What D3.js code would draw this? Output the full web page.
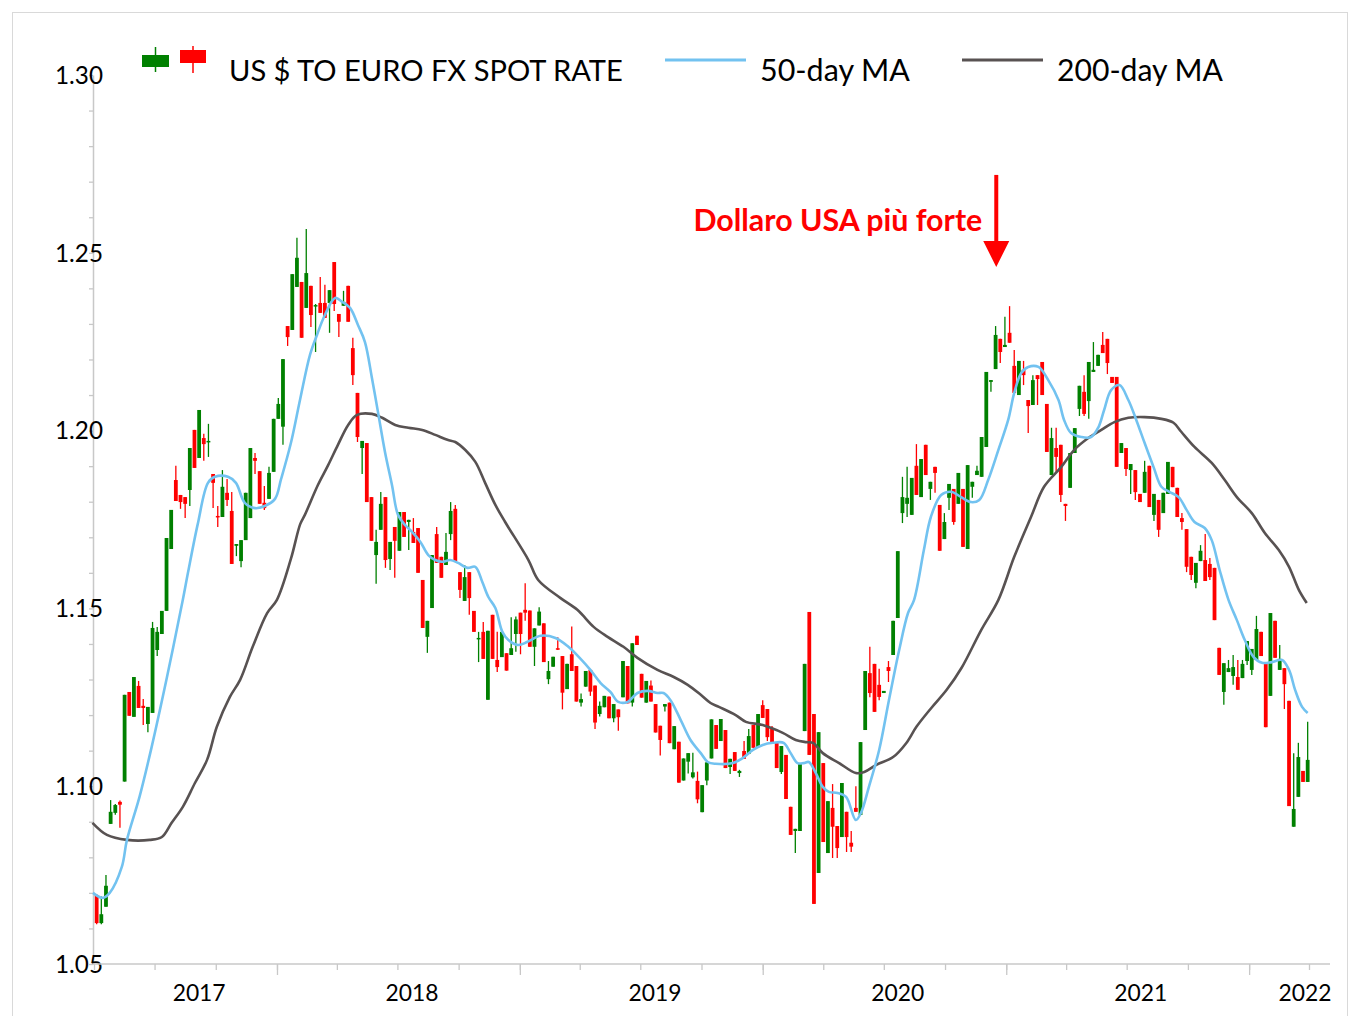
<!DOCTYPE html>
<html><head><meta charset="utf-8">
<script src="https://cdn.jsdelivr.net/npm/d3@7"></script>
<style>body{margin:0;background:#fff}svg{display:block}text{font-family:Lato,"Open Sans",sans-serif}</style>
</head><body><svg id="c" width="1360" height="1016"></svg>
<script>
// ---------- DATA ----------
const startDate = "2017-04-05"; // first weekly candle
// weekly candles [open, high, low, close]
const ohlc = [
[1.0694,1.0697,1.0612,1.0615],[1.0615,1.0690,1.0612,1.0640],[1.0661,1.0750,1.0661,1.0720],[1.0894,1.0961,1.0894,1.0928],
[1.0925,1.0950,1.0920,1.0947],[1.0956,1.0960,1.0883,1.0948],[1.1013,1.1257,1.1013,1.1257],[1.1265,1.1265,1.1198,1.1198],
[1.1195,1.1307,1.1195,1.1307],[1.1282,1.1296,1.1220,1.1220],[1.1226,1.1245,1.1172,1.1220],[1.1175,1.1223,1.1152,1.1223],
[1.1206,1.1462,1.1206,1.1445],[1.1383,1.1448,1.1366,1.1434],[1.1428,1.1493,1.1428,1.1493],[1.1493,1.1698,1.1493,1.1698],
[1.1667,1.1777,1.1667,1.1777],[1.1861,1.1901,1.1802,1.1802],[1.1819,1.1819,1.1780,1.1799],[1.1813,1.1813,1.1754,1.1794],
[1.1833,1.1951,1.1788,1.1951],[1.2002,1.2002,1.1895,1.1895],[1.1923,1.2058,1.1923,1.2058],[1.1979,1.1991,1.1915,1.1962],
[1.1968,1.2019,1.1926,1.1971],[1.1878,1.1878,1.1782,1.1853],[1.1760,1.1788,1.1729,1.1757],[1.1757,1.1889,1.1757,1.1842],
[1.1825,1.1864,1.1788,1.1805],[1.1774,1.1827,1.1625,1.1625],[1.1676,1.1681,1.1647,1.1681],[1.1633,1.1692,1.1616,1.1692],
[1.1692,1.1825,1.1692,1.1825],[1.1754,1.1951,1.1754,1.1951],[1.1923,1.1937,1.1878,1.1915],[1.1886,1.1886,1.1794,1.1794],
[1.1797,1.1844,1.1777,1.1782],[1.1808,1.1898,1.1808,1.1881],[1.1884,1.2033,1.1884,1.2033],[1.2033,1.2092,1.2033,1.2075],
[1.2011,1.2201,1.1960,1.2201],[1.2294,1.2294,1.2238,1.2263],[1.2283,1.2440,1.2283,1.2440],[1.2404,1.2542,1.2404,1.2486],
[1.2418,1.2418,1.2261,1.2261],[1.2345,1.2567,1.2345,1.2443],[1.2407,1.2407,1.2291,1.2325],[1.2349,1.2356,1.2221,1.2353],
[1.2359,1.2432,1.2331,1.2331],[1.2359,1.2410,1.2317,1.2317],[1.2359,1.2395,1.2275,1.2395],[1.2474,1.2474,1.2336,1.2356],
[1.2328,1.2328,1.2263,1.2306],[1.2351,1.2393,1.2351,1.2362],[1.2407,1.2407,1.2306,1.2306],[1.2232,1.2261,1.2128,1.2156],
[1.2106,1.2106,1.1968,1.1982],[1.1951,1.1971,1.1878,1.1971],[1.1965,1.1965,1.1799,1.1799],[1.1813,1.1813,1.1690,1.1690],
[1.1650,1.1721,1.1569,1.1687],[1.1721,1.1827,1.1721,1.1794],[1.1813,1.1813,1.1614,1.1636],[1.1639,1.1687,1.1608,1.1687],
[1.1729,1.1729,1.1586,1.1690],[1.1662,1.1771,1.1662,1.1771],[1.1771,1.1771,1.1701,1.1701],[1.1743,1.1749,1.1664,1.1749],
[1.1715,1.1754,1.1684,1.1684],[1.1726,1.1726,1.1600,1.1600],[1.1580,1.1580,1.1445,1.1445],[1.1420,1.1465,1.1375,1.1465],
[1.1501,1.1650,1.1501,1.1650],[1.1709,1.1729,1.1628,1.1628],[1.1645,1.1645,1.1586,1.1586],[1.1622,1.1712,1.1622,1.1659],
[1.1709,1.1799,1.1692,1.1774],[1.1780,1.1791,1.1633,1.1633],[1.1602,1.1602,1.1529,1.1552],[1.1521,1.1622,1.1521,1.1588],
[1.1602,1.1602,1.1482,1.1529],[1.1493,1.1493,1.1434,1.1434],[1.1414,1.1434,1.1349,1.1417],[1.1434,1.1462,1.1358,1.1358],
[1.1243,1.1437,1.1243,1.1437],[1.1482,1.1482,1.1358,1.1358],[1.1355,1.1434,1.1321,1.1335],[1.1363,1.1434,1.1363,1.1434],
[1.1374,1.1374,1.1325,1.1325],[1.1369,1.1475,1.1369,1.1388],[1.1428,1.1477,1.1378,1.1469],[1.1488,1.1488,1.1371,1.1428],
[1.1496,1.1571,1.1465,1.1488],[1.1494,1.1494,1.1392,1.1392],[1.1392,1.1444,1.1338,1.1444],[1.1452,1.1503,1.1452,1.1491],
[1.1458,1.1458,1.1349,1.1349],[1.1301,1.1352,1.1287,1.1324],[1.1336,1.1364,1.1336,1.1364],[1.1388,1.1419,1.1383,1.1385],
[1.1366,1.1366,1.1216,1.1263],[1.1273,1.1344,1.1273,1.1344],[1.1371,1.1449,1.1324,1.1324],[1.1338,1.1338,1.1238,1.1238],
[1.1235,1.1261,1.1224,1.1245],[1.1280,1.1324,1.1280,1.1324],[1.1327,1.1327,1.1254,1.1266],[1.1283,1.1283,1.1161,1.1179],
[1.1203,1.1238,1.1196,1.1226],[1.1222,1.1254,1.1222,1.1254],[1.1252,1.1252,1.1191,1.1191],[1.1191,1.1231,1.1180,1.1231],
[1.1216,1.1216,1.1156,1.1194],[1.1250,1.1352,1.1250,1.1352],[1.1338,1.1338,1.1233,1.1233],[1.1235,1.1402,1.1224,1.1402],
[1.1423,1.1423,1.1397,1.1397],[1.1316,1.1316,1.1249,1.1249],[1.1235,1.1296,1.1235,1.1296],[1.1283,1.1297,1.1238,1.1238],
[1.1231,1.1231,1.1151,1.1151],[1.1170,1.1170,1.1086,1.1130],[1.1224,1.1231,1.1210,1.1231],[1.1235,1.1235,1.1121,1.1121],
[1.1104,1.1169,1.1104,1.1169],[1.1125,1.1125,1.1010,1.1010],[1.1016,1.1078,1.1016,1.1078],[1.1069,1.1093,1.1036,1.1093],
[1.1025,1.1094,1.1022,1.1039],[1.1015,1.1041,1.0952,1.0963],[1.0927,1.1003,1.0927,1.1003],[1.1016,1.1067,1.1003,1.1067],
[1.1078,1.1188,1.1078,1.1188],[1.1172,1.1172,1.1105,1.1105],[1.1127,1.1189,1.1127,1.1189],[1.1158,1.1158,1.1051,1.1051],
[1.1054,1.1077,1.1034,1.1077],[1.1096,1.1096,1.1043,1.1043],[1.1037,1.1046,1.1026,1.1043],[1.1099,1.1127,1.1077,1.1077],
[1.1091,1.1161,1.1091,1.1141],[1.1172,1.1172,1.1108,1.1108],[1.1110,1.1203,1.1110,1.1203],[1.1228,1.1242,1.1192,1.1192],
[1.1217,1.1217,1.1127,1.1138],[1.1164,1.1169,1.1119,1.1119],[1.1122,1.1122,1.1051,1.1051],[1.1040,1.1113,1.1034,1.1113],
[1.1088,1.1088,1.0964,1.0964],[1.0942,1.0942,1.0863,1.0863],[1.0874,1.0880,1.0812,1.0880],[1.0874,1.1065,1.0874,1.1065],
[1.1155,1.1344,1.1155,1.1344],[1.1490,1.1490,1.1088,1.1088],[1.1203,1.1203,1.0669,1.0669],[1.0756,1.1152,1.0756,1.1152],
[1.1065,1.1065,1.0843,1.0843],[1.0812,1.0958,1.0812,1.0958],[1.0939,1.1006,1.0798,1.0886],[1.0888,1.0888,1.0798,1.0826],
[1.0857,1.1009,1.0857,1.1009],[1.0928,1.0928,1.0815,1.0857],[1.0841,1.0874,1.0815,1.0830],[1.0939,1.1000,1.0928,1.0928],
[1.0919,1.1124,1.0919,1.1124],[1.1158,1.1324,1.1158,1.1324],[1.1318,1.1392,1.1250,1.1262],[1.1344,1.1344,1.1209,1.1209],
[1.1285,1.1330,1.1242,1.1251],[1.1262,1.1268,1.1262,1.1268],[1.1335,1.1352,1.1293,1.1324],[1.1369,1.1465,1.1369,1.1465],
[1.1473,1.1661,1.1473,1.1661],[1.1768,1.1870,1.1740,1.1813],[1.1794,1.1898,1.1757,1.1811],[1.1763,1.1867,1.1763,1.1867],
[1.1901,1.1962,1.1819,1.1819],[1.1813,1.1920,1.1813,1.1920],[1.1960,1.1960,1.1875,1.1875],[1.1836,1.1856,1.1805,1.1856],
[1.1898,1.1898,1.1825,1.1881],[1.1791,1.1791,1.1662,1.1662],[1.1695,1.1768,1.1695,1.1743],[1.1811,1.1850,1.1777,1.1850],
[1.1836,1.1836,1.1735,1.1743],[1.1794,1.1881,1.1794,1.1881],[1.1836,1.1836,1.1673,1.1673],[1.1667,1.1903,1.1667,1.1903],
[1.1842,1.1856,1.1811,1.1856],[1.1875,1.1901,1.1875,1.1887],[1.1870,1.1982,1.1870,1.1982],[1.1954,1.2165,1.1954,1.2165],
[1.2137,1.2142,1.2109,1.2142],[1.2173,1.2294,1.2173,1.2269],[1.2258,1.2258,1.2190,1.2221],[1.2235,1.2320,1.2235,1.2241],
[1.2275,1.2350,1.2247,1.2247],[1.2182,1.2227,1.2106,1.2106],[1.2100,1.2196,1.2100,1.2196],[1.2171,1.2196,1.2128,1.2156],
[1.2086,1.2086,1.1993,1.2069],[1.2072,1.2156,1.2072,1.2142],[1.2156,1.2156,1.2072,1.2145],[1.2193,1.2193,1.2100,1.2100],
[1.2075,1.2075,1.1940,1.1940],[1.1875,1.2008,1.1875,1.1979],[1.1951,1.2008,1.1884,1.1926],[1.1960,1.1960,1.1799,1.1819],
[1.1794,1.1794,1.1746,1.1788],[1.1839,1.1937,1.1839,1.1937],[1.1937,1.2007,1.1937,1.2007],[1.2061,1.2126,1.2041,1.2126],
[1.2109,1.2156,1.2041,1.2047],[1.2083,1.2193,1.2033,1.2193],[1.2165,1.2249,1.2165,1.2171],[1.2182,1.2213,1.2182,1.2213],
[1.2241,1.2277,1.2218,1.2218],[1.2258,1.2258,1.2159,1.2190],[1.2151,1.2151,1.2134,1.2134],[1.2151,1.2151,1.1898,1.1898],
[1.1937,1.1965,1.1937,1.1965],[1.1951,1.1951,1.1872,1.1892],[1.1889,1.1906,1.1822,1.1906],[1.1889,1.1889,1.1805,1.1827],
[1.1822,1.1822,1.1799,1.1799],[1.1825,1.1915,1.1825,1.1884],[1.1901,1.1901,1.1785,1.1785],[1.1763,1.1822,1.1746,1.1822],
[1.1805,1.1805,1.1701,1.1721],[1.1768,1.1825,1.1768,1.1825],[1.1822,1.1912,1.1822,1.1912],[1.1898,1.1898,1.1841,1.1841],
[1.1839,1.1839,1.1757,1.1757],[1.1754,1.1768,1.1721,1.1743],[1.1723,1.1723,1.1602,1.1617],[1.1645,1.1645,1.1580,1.1594],
[1.1572,1.1628,1.1557,1.1628],[1.1633,1.1678,1.1633,1.1662],[1.1636,1.1709,1.1577,1.1577],[1.1625,1.1642,1.1580,1.1588],
[1.1614,1.1614,1.1467,1.1467],[1.1389,1.1389,1.1313,1.1313],[1.1265,1.1346,1.1229,1.1346],[1.1321,1.1355,1.1321,1.1332],
[1.1310,1.1369,1.1285,1.1335],[1.1307,1.1355,1.1271,1.1271],[1.1304,1.1355,1.1304,1.1344],[1.1352,1.1408,1.1341,1.1408],
[1.1327,1.1386,1.1313,1.1386],[1.1355,1.1479,1.1355,1.1442],[1.1434,1.1434,1.1366,1.1366],[1.1349,1.1349,1.1166,1.1166],
[1.1254,1.1487,1.1254,1.1487],[1.1465,1.1465,1.1361,1.1361],[1.1327,1.1397,1.1327,1.1358],[1.1332,1.1332,1.1217,1.1287],
[1.1240,1.1240,1.0944,1.0944],[1.0886,1.1093,1.0886,1.0936],[1.0970,1.1122,1.0970,1.1082],[1.1043,1.1043,1.1012,1.1012],
[1.1012,1.1181,1.1012,1.1074]
];
// moving averages: [week number since first candle, value]
const ma50 = [[-0.8,1.0700],[1.3,1.0686],[2.8,1.0700],[5.4,1.0773],[6.5,1.0849],[9.2,1.0970],[11.8,1.1110],[15.1,1.1307],[18.5,1.1524],[19.6,1.1600],[21.7,1.1737],[23.9,1.1853],[25.4,1.1870],[28.2,1.1870],[29.9,1.1853],[31.8,1.1797],[34.0,1.1782],[36.1,1.1788],[38.3,1.1808],[39.6,1.1864],[41.7,1.1965],[43.7,1.2089],[45.8,1.2213],[47.3,1.2269],[49.0,1.2325],[51.2,1.2373],[52.7,1.2362],[54.4,1.2345],[56.1,1.2297],[57.6,1.2249],[59.1,1.2148],[60.4,1.2052],[61.9,1.1940],[63.4,1.1847],[64.7,1.1763],[66.2,1.1735],[67.7,1.1715],[69.5,1.1687],[71.2,1.1650],[72.7,1.1636],[74.2,1.1631],[75.9,1.1636],[77.6,1.1628],[79.6,1.1614],[81.3,1.1617],[82.8,1.1574],[84.1,1.1532],[85.6,1.1501],[87.1,1.1434],[88.4,1.1411],[90.5,1.1397],[92.5,1.1406],[95.3,1.1423],[98.5,1.1417],[101.1,1.1394],[103.9,1.1358],[106.0,1.1327],[108.2,1.1290],[110.3,1.1265],[112.0,1.1237],[114.0,1.1237],[116.1,1.1262],[118.3,1.1268],[120.4,1.1262],[121.7,1.1262],[123.2,1.1242],[125.4,1.1186],[127.5,1.1130],[129.7,1.1093],[131.2,1.1068],[132.9,1.1063],[136.6,1.1065],[138.7,1.1079],[140.9,1.1102],[143.0,1.1116],[145.2,1.1122],[147.5,1.1122],[149.0,1.1093],[150.5,1.1065],[151.8,1.1065],[152.9,1.1068],[154.4,1.1037],[155.9,1.0998],[157.2,1.0984],[159.1,1.0981],[160.9,1.0970],[163.0,1.0905],[164.1,1.0925],[165.8,1.0998],[168.0,1.1102],[170.1,1.1242],[172.3,1.1383],[174.2,1.1487],[175.5,1.1524],[177.6,1.1664],[179.1,1.1757],[181.3,1.1819],[183.4,1.1828],[185.6,1.1813],[187.7,1.1799],[189.5,1.1805],[191.4,1.1861],[193.6,1.1946],[195.7,1.2030],[197.0,1.2106],[198.5,1.2162],[200.0,1.2179],[202.2,1.2179],[204.3,1.2142],[206.5,1.2086],[207.7,1.2030],[209.2,1.1993],[211.4,1.1982],[213.5,1.1982],[215.1,1.2010],[216.3,1.2058],[217.8,1.2114],[219.6,1.2128],[221.5,1.2086],[223.2,1.2030],[225.0,1.1965],[226.9,1.1898],[228.6,1.1842],[230.3,1.1828],[232.3,1.1813],[234.0,1.1777],[235.7,1.1743],[237.9,1.1726],[239.4,1.1692],[241.1,1.1608],[243.0,1.1524],[244.8,1.1467],[246.5,1.1411],[248.4,1.1363],[250.2,1.1347],[252.3,1.1349],[254.5,1.1355],[256.0,1.1327],[257.3,1.1271],[258.8,1.1223],[260.0,1.1206]];
const ma200 = [[-0.9,1.0897],[2.2,1.0863],[6.5,1.0849],[11.4,1.0849],[14.0,1.0857],[16.1,1.0897],[18.5,1.0942],[21.1,1.1009],[23.7,1.1074],[25.8,1.1167],[28.6,1.1251],[30.8,1.1299],[33.5,1.1392],[36.6,1.1487],[38.7,1.1524],[41.7,1.1639],[43.7,1.1737],[44.7,1.1763],[47.5,1.1847],[49.7,1.1903],[51.8,1.1960],[54.0,1.2016],[55.9,1.2044],[59.1,1.2047],[61.3,1.2036],[64.1,1.2016],[66.9,1.2008],[69.9,1.2002],[72.7,1.1988],[75.3,1.1974],[77.0,1.1968],[79.1,1.1946],[81.3,1.1912],[83.4,1.1853],[85.6,1.1791],[87.7,1.1743],[92.7,1.1636],[94.8,1.1580],[99.6,1.1529],[103.2,1.1496],[106.7,1.1448],[109.7,1.1420],[113.1,1.1392],[116.1,1.1361],[120.4,1.1327],[123.9,1.1307],[126.9,1.1285],[129.7,1.1257],[131.8,1.1234],[133.6,1.1223],[137.2,1.1200],[139.4,1.1181],[143.0,1.1172],[147.3,1.1150],[150.1,1.1130],[152.3,1.1124],[153.8,1.1122],[155.9,1.1093],[159.4,1.1065],[163.0,1.1037],[164.8,1.1040],[167.4,1.1060],[171.0,1.1082],[173.8,1.1121],[176.0,1.1167],[179.2,1.1220],[182.5,1.1271],[185.7,1.1333],[189.9,1.1439],[193.6,1.1524],[197.0,1.1645],[200.6,1.1757],[203.4,1.1842],[207.1,1.1898],[209.9,1.1946],[212.9,1.1979],[215.7,1.2002],[218.5,1.2024],[221.5,1.2036],[225.0,1.2038],[228.6,1.2033],[231.2,1.2022],[232.9,1.1996],[235.7,1.1954],[239.4,1.1909],[242.2,1.1861],[244.8,1.1813],[248.0,1.1768],[250.8,1.1712],[253.8,1.1664],[256.0,1.1617],[258.1,1.1552],[259.8,1.1515]];

const yTickValues = [1.05,1.10,1.15,1.20,1.25,1.30];
const yTickLabels = ["1.05","1.10","1.15","1.20","1.25","1.30"];
const yearLabels = ["2017","2018","2019","2020","2021","2022"];
const yearLabelDates = ["2017-09-06","2018-07-23","2019-07-23","2020-07-22","2021-07-22","2022-03-26"];
const seriesNames = ["US $ TO EURO FX SPOT RATE","50-day MA","200-day MA"];
const annotationText = "Dollaro USA più forte";
const annotationDate = "2020-12-17";
const annotationRange = [1.2719, 1.2460]; // arrow from / to

// ---------- CHART ----------
const svg = d3.select("#c");
const parse = d3.utcParse("%Y-%m-%d");
const t0 = parse(startDate);
const weekToDate = w => new Date(t0.getTime() + w*7*864e5);
const x = d3.scaleUtc().domain([parse("2017-04-01"), parse("2022-04-01")]).range([94, 1309]);
const y = d3.scaleLinear().domain([1.05, 1.30]).range([964, 75]);
const GREEN = "#008000", RED = "#ff0000";

// outer border
svg.append("rect").attr("x",12.5).attr("y",12.5).attr("width",1335).attr("height",1020)
  .attr("fill","none").attr("stroke","#d9d9d9");

// y axis: line + minor ticks every 0.01
const yMinor = d3.range(105, 131).map(v => v/100);
const gy = svg.append("g").attr("transform","translate(93,0)")
  .call(d3.axisLeft(y).tickValues(yMinor).tickSize(4).tickFormat("").tickSizeOuter(0));
gy.select(".domain").attr("stroke","#c8c8c8").attr("stroke-width",1.5);
gy.selectAll(".tick line").attr("stroke","#c8c8c8");
const yLab = svg.append("g").selectAll("text").data(yTickValues).join("text")
  .attr("x",55).attr("y",d=>y(d)).attr("dy","0.36em").attr("font-size",24).attr("fill","#000")
  .text((d,i)=>yTickLabels[i]);
{ const L = yLab.filter((d,i)=>i===5).node().getComputedTextLength(); yLab.attr("font-size", 24*48/L); }

// x axis
const quarters = d3.utcMonth.every(3).range(parse("2017-04-01"), parse("2022-04-02"));
const years = quarters.filter(d => d.getUTCMonth() === 0);
const gxm = svg.append("g").attr("transform","translate(0,964)")
  .call(d3.axisBottom(x).tickValues(quarters).tickSize(6).tickFormat("").tickSizeOuter(0));
gxm.select(".domain").remove();
const gxM = svg.append("g").attr("transform","translate(0,964)")
  .call(d3.axisBottom(x).tickValues(years).tickSize(11).tickFormat("").tickSizeOuter(0));
gxM.select(".domain").remove();
svg.selectAll(".tick line").attr("stroke","#c8c8c8").attr("stroke-width",1.3);
svg.append("line").attr("x1",93).attr("x2",1330).attr("y1",964).attr("y2",964)
  .attr("stroke","#c8c8c8").attr("stroke-width",1.5);
const xLab = svg.append("g").selectAll("text").data(yearLabels).join("text")
  .attr("x",(d,i)=>x(parse(yearLabelDates[i]))).attr("y",1001).attr("text-anchor","middle")
  .attr("font-size",24).attr("fill","#000").text(d=>d);
{ const L = xLab.node().getComputedTextLength(); xLab.attr("font-size", 24*53/L); }

// candles
const candles = ohlc.map((r,i)=>({date: weekToDate(i), o:r[0], h:r[1], l:r[2], c:r[3]}));
const bw = 3.8;
const gc = svg.append("g");
gc.selectAll("line").data(candles).join("line")
  .attr("x1",d=>x(d.date)).attr("x2",d=>x(d.date))
  .attr("y1",d=>y(d.h)).attr("y2",d=>y(d.l))
  .attr("stroke",d=>d.c>=d.o?GREEN:RED).attr("stroke-width",1.3);
gc.selectAll("rect").data(candles).join("rect")
  .attr("x",d=>x(d.date)-bw/2).attr("width",bw)
  .attr("y",d=>y(Math.max(d.o,d.c)))
  .attr("height",d=>Math.max(1.5, Math.abs(y(d.o)-y(d.c))))
  .attr("fill",d=>d.c>=d.o?GREEN:RED);

// moving averages
const line = d3.line().x(d=>x(weekToDate(d[0]))).y(d=>y(d[1])).curve(d3.curveCatmullRom.alpha(0.5));
svg.append("path").attr("d",line(ma200)).attr("fill","none").attr("stroke","#585252").attr("stroke-width",2.6);
svg.append("path").attr("d",line(ma50)).attr("fill","none").attr("stroke","#72c2f0").attr("stroke-width",2.6);

// legend
const lg = svg.append("g");
lg.append("line").attr("x1",155.5).attr("x2",155.5).attr("y1",47).attr("y2",72).attr("stroke",GREEN).attr("stroke-width",1.5);
lg.append("rect").attr("x",142).attr("y",55).attr("width",27).attr("height",12).attr("fill",GREEN);
lg.append("line").attr("x1",193).attr("x2",193).attr("y1",46).attr("y2",73).attr("stroke",RED).attr("stroke-width",1.5);
lg.append("rect").attr("x",180).attr("y",50).attr("width",26).attr("height",13).attr("fill",RED);
lg.append("line").attr("x1",665).attr("x2",746).attr("y1",60).attr("y2",60).attr("stroke","#72c2f0").attr("stroke-width",3);
lg.append("line").attr("x1",962).attr("x2",1043).attr("y1",60).attr("y2",60).attr("stroke","#585252").attr("stroke-width",3);
const legX = [229, 760, 1057], legW = [394, 150, 166];
seriesNames.forEach((s,i)=>{
  const t = lg.append("text").attr("x",legX[i]).attr("y",81).attr("font-size",30).attr("fill","#000").text(s);
  const L = t.node().getComputedTextLength(); t.attr("font-size", 30*legW[i]/L);
});

// annotation
const ax = x(parse(annotationDate));
svg.append("line").attr("x1",ax).attr("x2",ax).attr("y1",y(annotationRange[0])).attr("y2",y(annotationRange[1])-20)
  .attr("stroke",RED).attr("stroke-width",4);
svg.append("path").attr("d",`M${ax-13},${y(annotationRange[1])-26}L${ax+13},${y(annotationRange[1])-26}L${ax},${y(annotationRange[1])}Z`).attr("fill",RED);
const at = svg.append("text").attr("x",ax-14).attr("y",231).attr("text-anchor","end")
  .attr("font-size",28).attr("font-weight","bold").attr("fill",RED).text(annotationText);
{ const L = at.node().getComputedTextLength(); at.attr("font-size", 28*289/L); }
</script></body></html>
